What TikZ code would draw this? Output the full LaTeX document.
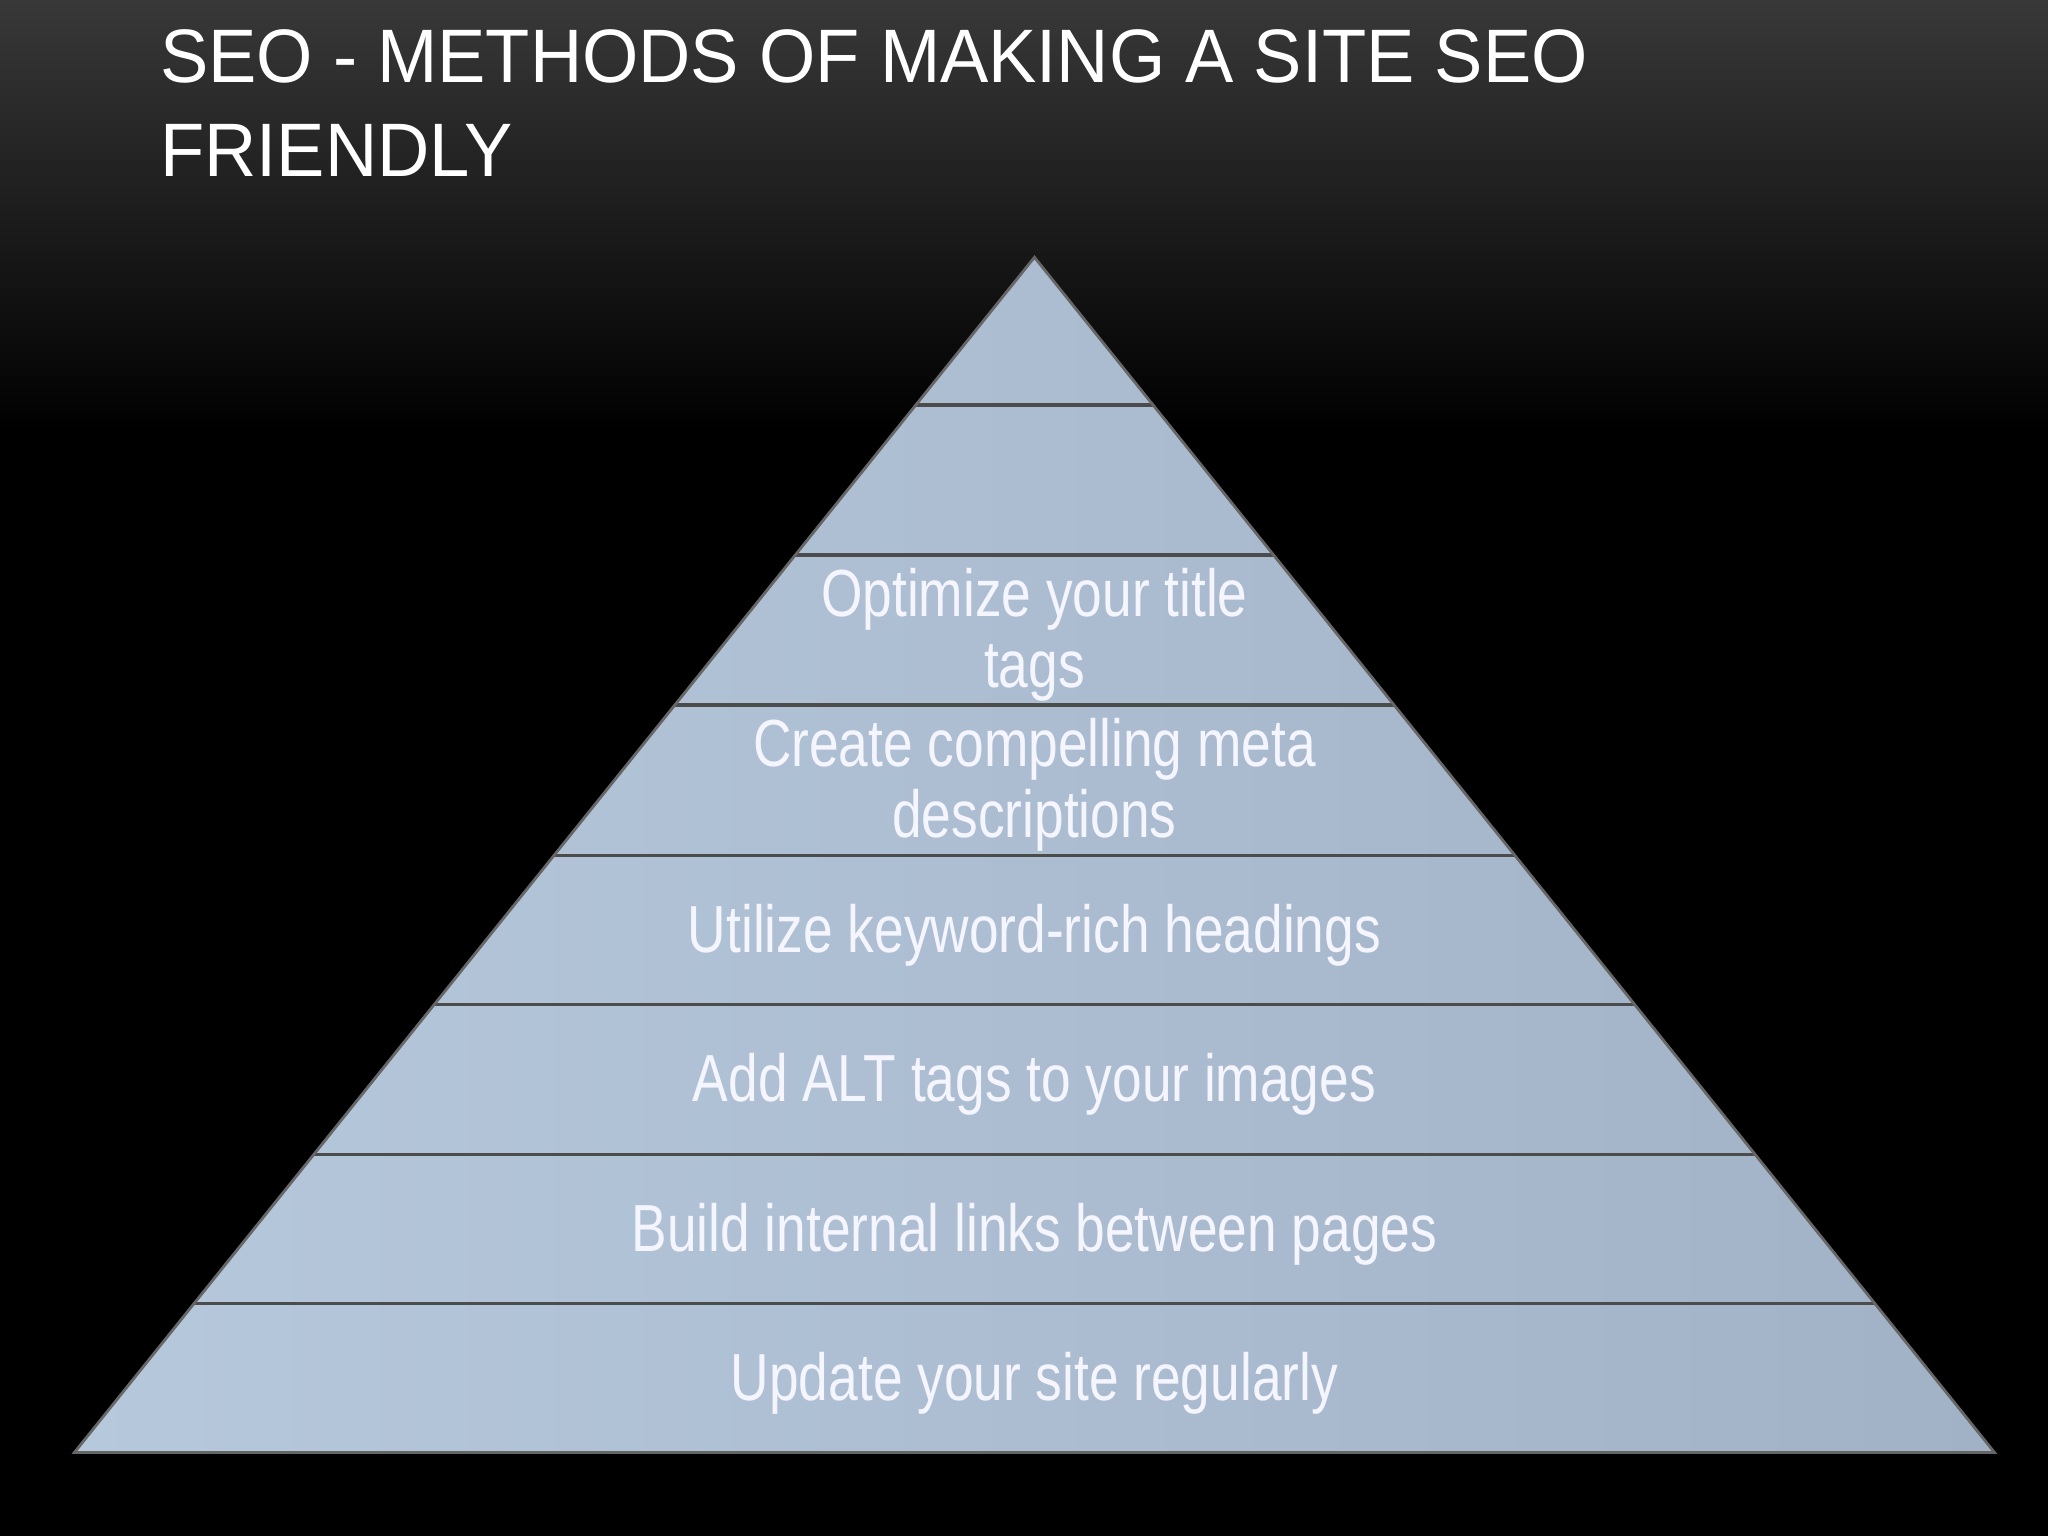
\documentclass[tikz,border=0pt]{standalone}
\usepackage{fontspec}
\setmainfont{Liberation Sans}
\definecolor{pyrL}{HTML}{B6C8DC}
\definecolor{pyrR}{HTML}{A2B2C6}
\begin{document}
\begin{tikzpicture}[x=0.01cm,y=-0.01cm,
  lbl/.style={text=white!96!blue, font=\fontsize{14.5}{15.5}\selectfont, align=center, xscale=0.8, transform shape},
  sep/.style={draw=black!70, line width=0.8pt}]
\useasboundingbox (0,0) rectangle (1568,1176);
\shade[top color=black!78, bottom color=black] (0,0) rectangle (1568,330);
\fill[black] (0,329) rectangle (1568,1176);
\node[anchor=north west, text=white, font=\fontsize{16.5}{20.5}\selectfont, align=left, inner sep=0, xscale=0.955, transform shape] (title) at (122,22) {SEO - METHODS OF MAKING A SITE SEO\\FRIENDLY};
\coordinate (apex) at (792,197);
\coordinate (bl) at (57,1112);
\coordinate (br) at (1527,1112);
\shade[left color=pyrL, right color=pyrR] (apex) -- (br) -- (bl) -- cycle;
\foreach \y in {310,425,540,655,769,884,998}{
  \pgfmathsetmacro{\hw}{(\y-197)/915*735}
  \draw[sep] (792-\hw,\y) -- (792+\hw,\y);
}
\draw[black!60, line width=0.6pt] (apex) -- (br) -- (bl) -- cycle;
\node[lbl] (t3) at (792,486) {Optimize your title\\tags};
\node[lbl] (t4) at (792,601) {Create compelling meta\\descriptions};
\node[lbl] (t5) at (792,716) {Utilize keyword-rich headings};
\node[lbl] (t6) at (792,830) {Add ALT tags to your images};
\node[lbl] (t7) at (792,945) {Build internal links between pages};
\node[lbl] (t8) at (792,1059) {Update your site regularly};
\end{tikzpicture}
\end{document}
